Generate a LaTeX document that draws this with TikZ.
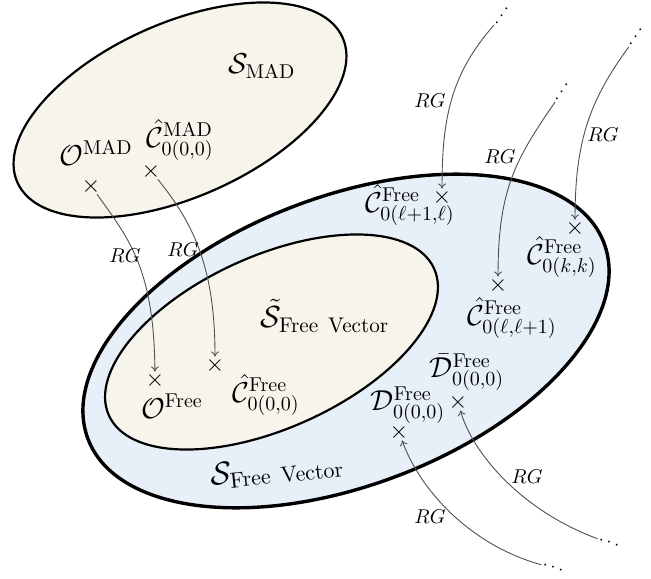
\documentclass[tikz,border=0pt]{standalone}
\usetikzlibrary{arrows.meta}
\definecolor{beige}{HTML}{F7F4EC}
\definecolor{paleblue}{HTML}{E7EFF8}
\definecolor{arrowgray}{HTML}{505050}
\begin{document}
\begin{tikzpicture}[x=0.5pt,y=-0.5pt,
  setbig/.style={font=\Large, inner sep=1pt},
  setsmall/.style={font=\Large, inner sep=0pt},
  crossmark/.style={font=\large, inner sep=0pt},
  rglabel/.style={font=\normalsize, inner sep=1pt},
  dotsmark/.style={font=\small, inner sep=0.5pt},
  rgarrow/.style={draw=arrowgray, line width=0.45pt, -{To[length=2.6pt,width=4pt]}}]
\useasboundingbox (0,0) rectangle (651,578);
% sets
\coordinate (cmad) at (180,110);
\coordinate (cout) at (346,341);
\coordinate (cin) at (271.5,342);
\filldraw[fill=beige, line width=1.1pt, rotate around={24:(cmad)}] (cmad) ellipse [x radius=89pt, y radius=43.5pt];
\filldraw[fill=paleblue, line width=1.7pt, rotate around={20.8:(cout)}] (cout) ellipse [x radius=138pt, y radius=72.2pt];
\filldraw[fill=beige, line width=1.1pt, rotate around={24.3:(cin)}] (cin) ellipse [x radius=89.2pt, y radius=43.1pt];
% set labels
\node[setbig] (smad) at (262,66) {$\mathcal{S}_{\mathrm{MAD}}$};
\node[setbig, scale=1.06] (sfvt) at (325,316) {$\tilde{\mathcal{S}}_{\mathrm{Free\ Vector}}$};
\node[setbig, scale=1.1, rotate=6] (sfv) at (277,470) {$\mathcal{S}_{\mathrm{Free\ Vector}}$};
% points
\node[crossmark] (xomad) at (91,186) {$\times$};
\node[crossmark] (xcmad) at (151,171) {$\times$};
\node[crossmark] (xofree) at (155,380) {$\times$};
\node[crossmark] (xcfree) at (215,365) {$\times$};
\node[crossmark] (xcl1) at (442,197) {$\times$};
\node[crossmark] (xckk) at (575,228) {$\times$};
\node[crossmark] (xcl2) at (498,285) {$\times$};
\node[crossmark] (xdbar) at (458,402) {$\times$};
\node[crossmark] (xd) at (399,432) {$\times$};
% point labels
\node[setsmall] (lomad) at (96,153) {$\mathcal{O}^{\mathrm{MAD}}$};
\node[setsmall] (lcmad) at (180,140) {$\hat{\mathcal{C}}^{\mathrm{MAD}}_{0(0,0)}$};
\node[setsmall] (lofree) at (172,406) {$\mathcal{O}^{\mathrm{Free}}$};
\node[setsmall] (lcfree) at (266,395) {$\hat{\mathcal{C}}^{\mathrm{Free}}_{0(0,0)}$};
\node[setsmall] (lcl1) at (410,205) {$\hat{\mathcal{C}}^{\mathrm{Free}}_{0(\ell+1,\ell)}$};
\node[setsmall] (lckk) at (562,257) {$\hat{\mathcal{C}}^{\mathrm{Free}}_{0(k,k)}$};
\node[setsmall] (lcl2) at (512,318) {$\hat{\mathcal{C}}^{\mathrm{Free}}_{0(\ell,\ell+1)}$};
\node[setsmall] (ldbar) at (467,372) {$\bar{\mathcal{D}}^{\mathrm{Free}}_{0(0,0)}$};
\node[setsmall] (ld) at (408,405) {$\mathcal{D}^{\mathrm{Free}}_{0(0,0)}$};
% dots
\node[dotsmark, rotate=55] (d1) at (502,16) {$\cdots$};
\node[dotsmark, rotate=55] (d2) at (636,37) {$\cdots$};
\node[dotsmark, rotate=55] (d3) at (562,92) {$\cdots$};
\node[dotsmark, rotate=-20] (d4) at (609,543) {$\cdots$};
\node[dotsmark, rotate=-20] (d5) at (553,568) {$\cdots$};
% RG arrows
\draw[rgarrow] (xomad) .. controls (130,240) and (154,270) .. (xofree);
\draw[rgarrow] (xcmad) .. controls (195,225) and (215,270) .. (xcfree);
\draw[rgarrow] (d1) .. controls (450,75) and (442,120) .. (xcl1);
\draw[rgarrow] (d2) .. controls (590,100) and (575,140) .. (xckk);
\draw[rgarrow] (d3) .. controls (515,160) and (498,190) .. (xcl2);
\draw[rgarrow] (d4) .. controls (520,510) and (472,452) .. (xdbar);
\draw[rgarrow] (d5) .. controls (470,545) and (420,490) .. (xd);
% RG labels
\node[rglabel] (rg1) at (125,256) {$RG$};
\node[rglabel] (rg2) at (183,250) {$RG$};
\node[rglabel] (rg3) at (430,101) {$RG$};
\node[rglabel] (rg4) at (603,135) {$RG$};
\node[rglabel] (rg5) at (500,157) {$RG$};
\node[rglabel] (rg6) at (527,477) {$RG$};
\node[rglabel] (rg7) at (430,517) {$RG$};
\end{tikzpicture}
\end{document}
